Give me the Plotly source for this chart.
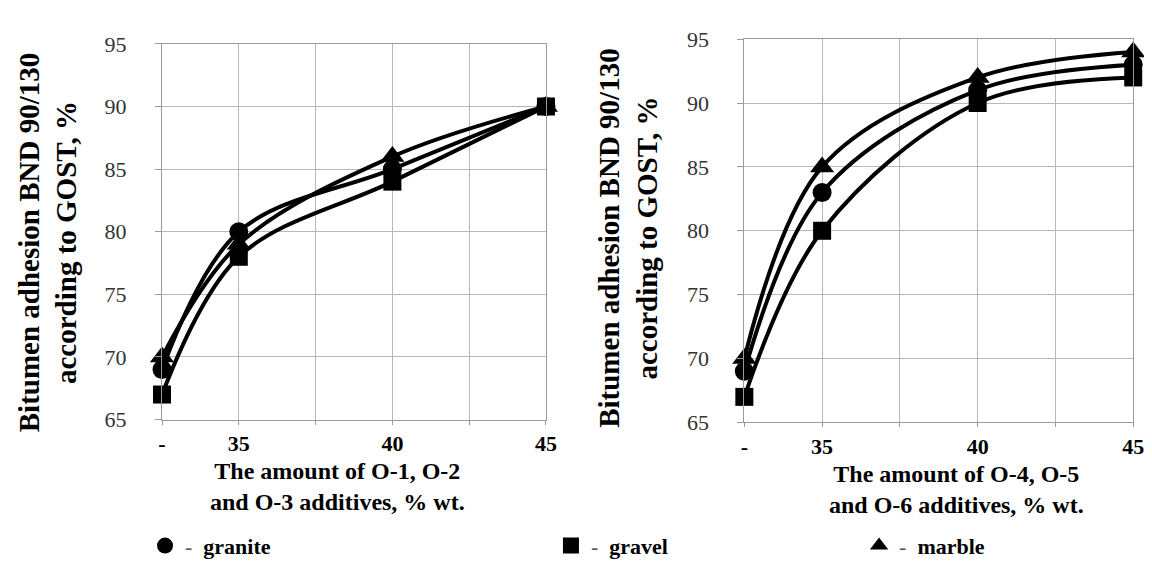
import plotly.graph_objects as go

# ---- data ----
amount_labels = ["-", "35", "40", "45"]
CONTROL_POS = 32.5  # axis position used for the "-" (no additive) point

left_granite = [69, 80, 85, 90]
left_gravel = [67, 78, 84, 90]
left_marble = [70, 79, 86, 90]

right_granite = [69, 83, 91, 93]
right_gravel = [67, 80, 90, 92]
right_marble = [70, 85, 92, 94]

y_ticks = [65, 70, 75, 80, 85, 90, 95]

series_names = ["granite", "gravel", "marble"]
series_symbols = ["circle", "square", "triangle-up"]
marker_sizes = [19, 18, 21]

x_pos = [CONTROL_POS if a == "-" else float(a) for a in amount_labels]

FONT = "Liberation Serif, Times New Roman, serif"
W, H = 1152, 567
fig = go.Figure()

panels = [
    ("x", "y", [left_granite, left_gravel, left_marble]),
    ("x2", "y2", [right_granite, right_gravel, right_marble]),
]
draw_order = [1, 0, 2]  # gravel, granite, marble
for xa, ya, data in panels:
    for i in draw_order:
        fig.add_trace(go.Scatter(
            x=x_pos, y=data[i], xaxis=xa, yaxis=ya,
            mode="lines+markers",
            line=dict(color="black", width=4, shape="spline", smoothing=1),
            marker=dict(symbol=series_symbols[i], size=marker_sizes[i],
                        color="black"),
            cliponaxis=False, showlegend=False, hoverinfo="skip",
        ))

# legend-only traces (three separate legends)
for i, (name, sym) in enumerate(zip(series_names, series_symbols)):
    fig.add_trace(go.Scatter(
        x=[None], y=[None], mode="markers",
        name="<span style='color:#555'>-</span>\u00a0\u00a0<b>" + name + "</b>",
        marker=dict(symbol=sym, size=16, color="black"),
        legend="legend" if i == 0 else f"legend{i + 1}",
    ))

grid_vals = [32.5, 35, 37.5, 40, 42.5, 45]
grid_text = ["<b>-</b>", "<b>35</b>", "", "<b>40</b>", "", "<b>45</b>"]

xaxis_common = dict(
    range=[32.5, 45], tickvals=grid_vals, ticktext=grid_text,
    showgrid=True, gridcolor="#b8b8b8", gridwidth=1,
    showline=True, linecolor="#9a9a9a", linewidth=1, mirror=True,
    ticks="outside", ticklen=4, tickcolor="#9a9a9a",
    tickfont=dict(family=FONT, size=22, color="black"),
    ticklabelstandoff=0,
    zeroline=False,
)
yaxis_common = dict(
    range=[65, 95], tickvals=y_ticks,
    showgrid=True, gridcolor="#b8b8b8", gridwidth=1,
    showline=True, linecolor="#9a9a9a", linewidth=1, mirror=True,
    ticks="outside", ticklen=6, tickcolor="#9a9a9a",
    ticklabelstandoff=24,
    tickfont=dict(family=FONT, size=22, color="#333333"),
    zeroline=False,
)

legend_common = dict(
    orientation="h", yanchor="middle", y=(H - 550) / H, xanchor="left",
    font=dict(family=FONT, size=22, color="black"),
    bgcolor="rgba(0,0,0,0)", itemsizing="trace",
)

fig.update_layout(
    width=W, height=H,
    margin=dict(l=0, r=0, t=0, b=0),
    paper_bgcolor="white", plot_bgcolor="white",
    xaxis=dict(domain=[152 / W, 541 / W], anchor="y", **xaxis_common),
    yaxis=dict(domain=[(H - 418) / H, (H - 25) / H], anchor="x", **yaxis_common),
    xaxis2=dict(domain=[742 / W, 1136 / W], anchor="y2", **xaxis_common),
    yaxis2=dict(domain=[(H - 421) / H, (H - 20) / H], anchor="x2", **yaxis_common),
    legend=dict(x=0.117, **legend_common),
    legend2=dict(x=0.474, **legend_common),
    legend3=dict(x=0.745, **legend_common),
    showlegend=True,
)

ytitle_font = dict(family=FONT, size=29, color="black")
xtitle_font = dict(family=FONT, size=24, color="black")
annotations = [
    dict(text="<b>Bitumen adhesion BND 90/130<br>according to GOST, %</b>",
         x=36 / W, y=(H - 233) / H, textangle=-90, font=ytitle_font),
    dict(text="<b>Bitumen adhesion BND 90/130<br>according to GOST, %</b>",
         x=624 / W, y=(H - 228) / H, textangle=-90, font=ytitle_font),
    dict(text="<b>The amount of O-1, O-2<br>and O-3 additives, % wt.</b>",
         x=330 / W, y=(H - 488) / H, font=xtitle_font),
    dict(text="<b>The amount of O-4, O-5<br>and O-6 additives, % wt.</b>",
         x=957 / W, y=(H - 491) / H, font=xtitle_font),
]
for a in annotations:
    fig.add_annotation(xref="paper", yref="paper", showarrow=False,
                       xanchor="center", yanchor="middle", **a)

fig.write_html("out.html")
